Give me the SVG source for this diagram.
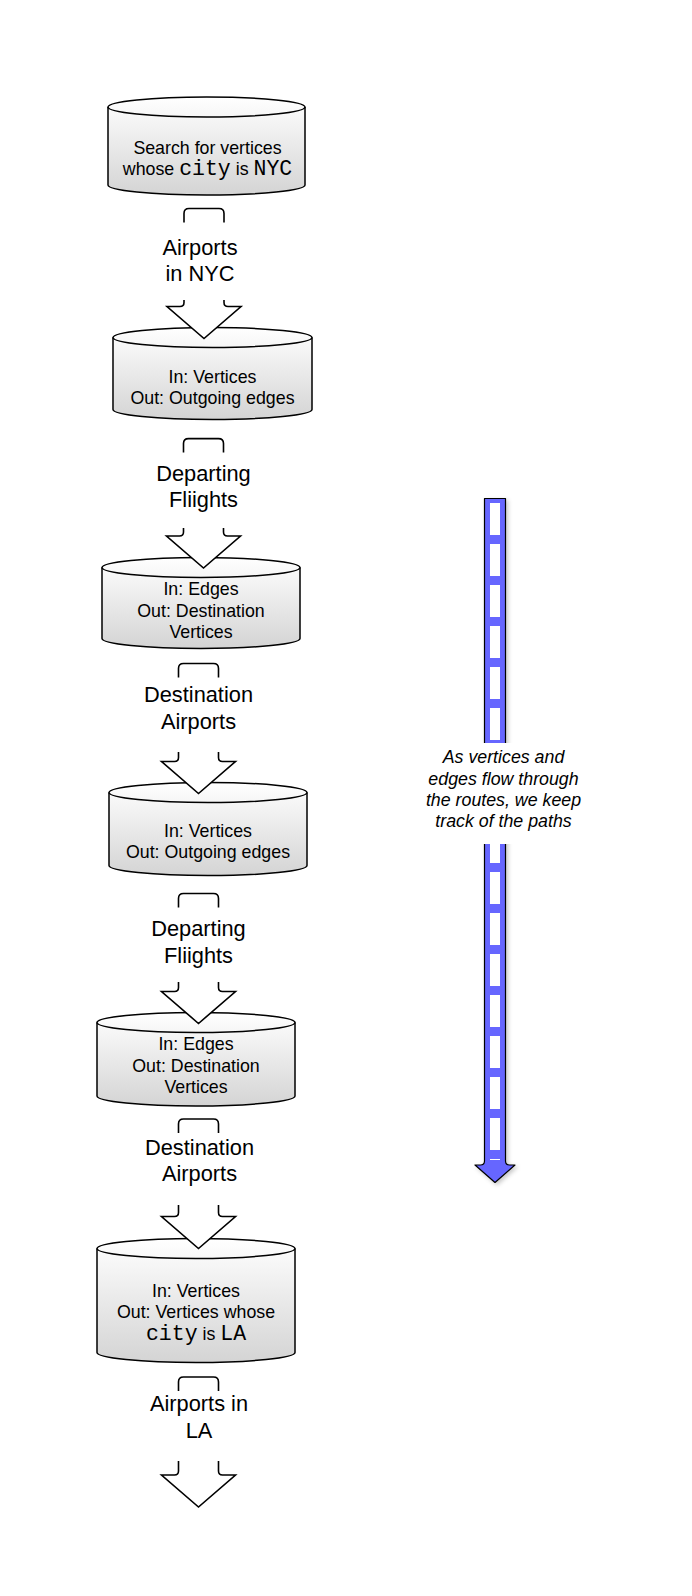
<svg xmlns="http://www.w3.org/2000/svg" width="692" height="1596" viewBox="0 0 692 1596">
<defs>
<linearGradient id="cylFill" x1="0" y1="0" x2="0" y2="1">
<stop offset="0" stop-color="#ffffff"/>
<stop offset="1" stop-color="#d4d4d4"/>
</linearGradient>
<filter id="shadow" x="-50%" y="-5%" width="200%" height="110%">
<feDropShadow dx="2" dy="2" stdDeviation="2" flood-color="#000" flood-opacity="0.22"/>
</filter>
</defs>
<style>
.cyl{fill:url(#cylFill);stroke:#000;stroke-width:1.5}
.cylTop{fill:none;stroke:#000;stroke-width:1.5}
.t{font-family:"Liberation Sans",Arial,sans-serif;font-size:17.8px;fill:#000;text-anchor:middle}
.m{font-family:"Liberation Mono","Courier New",monospace;font-size:21.5px}
.lbl{font-family:"Liberation Sans",Arial,sans-serif;font-size:21.8px;fill:#000;text-anchor:middle}
.br{fill:none;stroke:#000;stroke-width:1.6;stroke-linejoin:round}
.hd{fill:#fff;stroke:#000;stroke-width:1.6;stroke-linejoin:miter}
.note{font-family:"Liberation Sans",Arial,sans-serif;font-size:17.8px;font-style:italic;fill:#000;text-anchor:middle}
</style>
<rect width="692" height="1596" fill="#fff"/>

<g id="node-search">
<path class="cyl" d="M108,107 A98.5,10 0 0 1 305,107 V185 A98.5,10 0 0 1 108,185 Z"/>
<path class="cylTop" d="M108,107 A98.5,10 0 0 0 305,107"/>
<text class="t" x="207.5" y="153.5">Search for vertices</text>
<text class="t" x="207.5" y="175">whose <tspan class="m">city</tspan> is <tspan class="m">NYC</tspan></text>
</g>

<g id="node-out1">
<path class="cyl" d="M113,337.5 A99.5,10 0 0 1 312,337.5 V409.5 A99.5,10 0 0 1 113,409.5 Z"/>
<path class="cylTop" d="M113,337.5 A99.5,10 0 0 0 312,337.5"/>
<text class="t" x="212.5" y="382.5">In: Vertices</text>
<text class="t" x="212.5" y="404">Out: Outgoing edges</text>
</g>

<g id="node-in1">
<path class="cyl" d="M102,567.5 A99,10 0 0 1 300,567.5 V638.5 A99,10 0 0 1 102,638.5 Z"/>
<path class="cylTop" d="M102,567.5 A99,10 0 0 0 300,567.5"/>
<text class="t" x="201" y="595">In: Edges</text>
<text class="t" x="201" y="616.5">Out: Destination</text>
<text class="t" x="201" y="638">Vertices</text>
</g>

<g id="node-out2">
<path class="cyl" d="M109,792.5 A99,10 0 0 1 307,792.5 V865.5 A99,10 0 0 1 109,865.5 Z"/>
<path class="cylTop" d="M109,792.5 A99,10 0 0 0 307,792.5"/>
<text class="t" x="208" y="836.5">In: Vertices</text>
<text class="t" x="208" y="858">Out: Outgoing edges</text>
</g>

<g id="node-in2">
<path class="cyl" d="M97,1022.5 A99,10 0 0 1 295,1022.5 V1096 A99,10 0 0 1 97,1096 Z"/>
<path class="cylTop" d="M97,1022.5 A99,10 0 0 0 295,1022.5"/>
<text class="t" x="196" y="1050">In: Edges</text>
<text class="t" x="196" y="1071.5">Out: Destination</text>
<text class="t" x="196" y="1093">Vertices</text>
</g>

<g id="node-filter">
<path class="cyl" d="M97,1248.5 A99,10 0 0 1 295,1248.5 V1352.5 A99,10 0 0 1 97,1352.5 Z"/>
<path class="cylTop" d="M97,1248.5 A99,10 0 0 0 295,1248.5"/>
<text class="t" x="196" y="1296.5">In: Vertices</text>
<text class="t" x="196" y="1318">Out: Vertices whose</text>
<text class="t" x="196" y="1339.5"><tspan class="m">city</tspan> is <tspan class="m">LA</tspan></text>
</g>

<g id="connectors">
<g id="conn1">
<path class="br" d="M184,222.5 V213.5 Q184,208.5 189,208.5 H219 Q224,208.5 224,213.5 V222.5"/>
<text class="lbl" x="200" y="254.5">Airports</text>
<text class="lbl" x="200" y="280.5">in NYC</text>
<path class="hd" d="M184,300 V302.5 Q184,306.5 180,306.5 H167 L204,338.5 L241,306.5 H228 Q224,306.5 224,302.5 V300"/>
</g>
<g id="conn2">
<path class="br" d="M183.5,452.6 V443.6 Q183.5,438.6 188.5,438.6 H218.5 Q223.5,438.6 223.5,443.6 V452.6"/>
<text class="lbl" x="203.5" y="481">Departing</text>
<text class="lbl" x="203.5" y="507">Fliights</text>
<path class="hd" d="M183.5,528 V532 Q183.5,536 179.5,536 H166.5 L203.5,568 L240.5,536 H227.5 Q223.5,536 223.5,532 V528"/>
</g>
<g id="conn3">
<path class="br" d="M178.5,677.5 V668.5 Q178.5,663.5 183.5,663.5 H213.5 Q218.5,663.5 218.5,668.5 V677.5"/>
<text class="lbl" x="198.5" y="702">Destination</text>
<text class="lbl" x="198.5" y="728.5">Airports</text>
<path class="hd" d="M178.5,752 V757.5 Q178.5,761.5 174.5,761.5 H161.5 L198.5,793.5 L235.5,761.5 H222.5 Q218.5,761.5 218.5,757.5 V752"/>
</g>
<g id="conn4">
<path class="br" d="M178.5,907.5 V898.5 Q178.5,893.5 183.5,893.5 H213.5 Q218.5,893.5 218.5,898.5 V907.5"/>
<text class="lbl" x="198.5" y="936">Departing</text>
<text class="lbl" x="198.5" y="962.5">Fliights</text>
<path class="hd" d="M178.5,982 V987.5 Q178.5,991.5 174.5,991.5 H161.5 L198.5,1023.5 L235.5,991.5 H222.5 Q218.5,991.5 218.5,987.5 V982"/>
</g>
<g id="conn5">
<path class="br" d="M178.5,1133 V1124 Q178.5,1119 183.5,1119 H213.5 Q218.5,1119 218.5,1124 V1133"/>
<text class="lbl" x="199.5" y="1155">Destination</text>
<text class="lbl" x="199.5" y="1181">Airports</text>
<path class="hd" d="M178.5,1205 V1212.5 Q178.5,1216.5 174.5,1216.5 H161.5 L198.5,1248.5 L235.5,1216.5 H222.5 Q218.5,1216.5 218.5,1212.5 V1205"/>
</g>
<g id="conn6">
<path class="br" d="M178.5,1391 V1382 Q178.5,1377 183.5,1377 H213.5 Q218.5,1377 218.5,1382 V1391"/>
<text class="lbl" x="199" y="1411">Airports in</text>
<text class="lbl" x="199" y="1437.5">LA</text>
<path class="hd" d="M178.5,1461 V1471 Q178.5,1475 174.5,1475 H161.5 L198.5,1507 L235.5,1475 H222.5 Q218.5,1475 218.5,1471 V1461"/>
</g>
</g>

<g id="path-tracking">
<path d="M484.5,498.5 H505.5 V1161 Q505.5,1165 509.5,1165 H515 L495,1182.5 L475,1165 H480.5 Q484.5,1165 484.5,1161 Z" fill="#6666ff" stroke="#000" stroke-width="1.2" stroke-linejoin="round" filter="url(#shadow)"/>
<line x1="495" y1="503" x2="495" y2="1160" stroke="#fff" stroke-width="10" stroke-dasharray="32 9"/>
<rect x="415" y="743" width="178" height="101" fill="#fff"/>
<text class="note" x="503.5" y="763">As vertices and</text>
<text class="note" x="503.5" y="784.5">edges flow through</text>
<text class="note" x="503.5" y="806">the routes, we keep</text>
<text class="note" x="503.5" y="827">track of the paths</text>
</g>
</svg>
